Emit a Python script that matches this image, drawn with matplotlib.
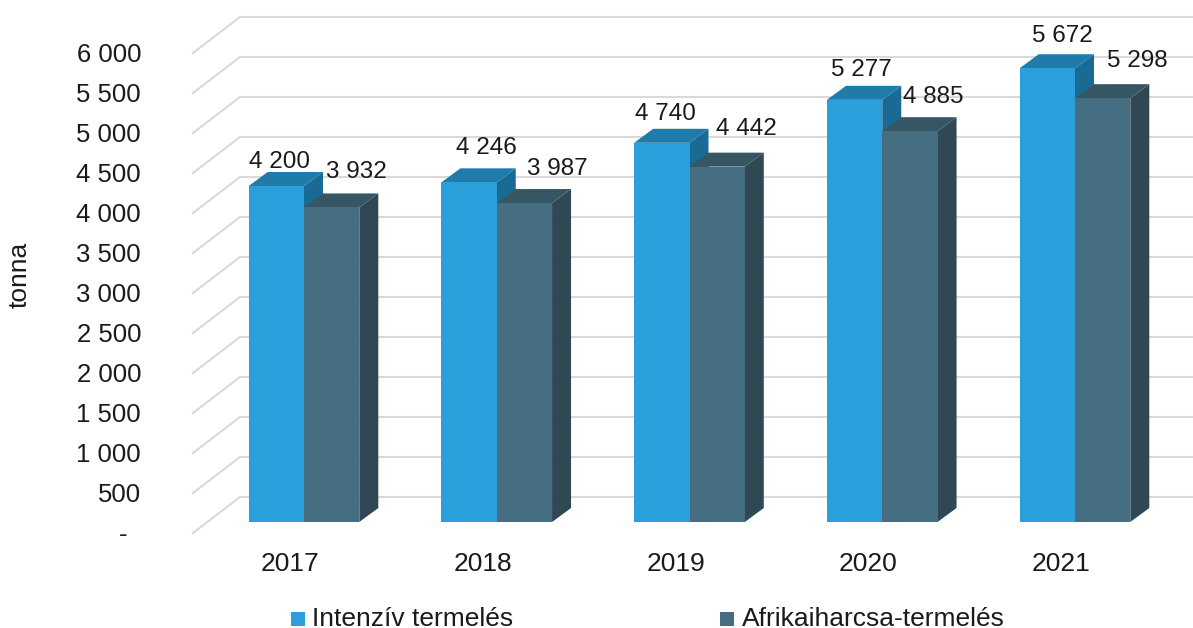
# coding=utf-8
import matplotlib
matplotlib.use('Agg')
import matplotlib.pyplot as plt
from matplotlib.patches import Polygon, Rectangle

plt.rcParams['font.family'] = ['Liberation Sans', 'DejaVu Sans']

years = ['2017', '2018', '2019', '2020', '2021']
intenziv = [4200, 4246, 4740, 5277, 5672]
afrikai = [3932, 3987, 4442, 4885, 5298]
intenziv_labels = ['4 200', '4 246', '4 740', '5 277', '5 672']
afrikai_labels = ['3 932', '3 987', '4 442', '4 885', '5 298']
y_values = [0, 500, 1000, 1500, 2000, 2500, 3000, 3500, 4000, 4500, 5000, 5500, 6000]
y_labels = ['-', '500', '1 000', '1 500', '2 000', '2 500', '3 000', '3 500',
            '4 000', '4 500', '5 000', '5 500', '6 000']
# hand moved data labels, pixels from top centre of the bar
intenziv_nudge = [(3.5, 24), (17, 34), (4, 29), (7, 30), (15, 32)]
afrikai_nudge = [(24.5, 35), (33, 34), (29, 38), (23, 34), (35, 37)]

W, H = 1193, 628
X_UNIT = 192.75  # pixels per category
Y_UNIT = 0.08  # pixels per tonne
X0 = 304  # pixel of first category centre
Y0 = 522  # pixel of the bar base

fig = plt.figure(figsize=(W / 100, H / 100), dpi=100, facecolor='white')
ax = fig.add_axes([0, 0, 1, 1])
ax.set_xlim(-X0 / X_UNIT, (W - X0) / X_UNIT)
ax.set_ylim((Y0 - H) / Y_UNIT, Y0 / Y_UNIT)
ax.axis('off')


def dx(px):
    return px / X_UNIT


def dy(px):
    return px / Y_UNIT


def left_px(px):
    return (px - X0) / X_UNIT


def draw_bar(left, value, colors):
    '''
    draw one 3d looking bar: front, top and side faces
    '''
    front, top, side = colors
    w = dx(55.3)
    ox, oy = dx(19), dy(14)
    ax.add_patch(Polygon([(left + w, 0), (left + w + ox, oy), (left + w + ox, value + oy), (left + w, value)],
                         closed=True, fc=side, ec='none', zorder=3))
    ax.add_patch(Polygon([(left, value), (left + ox, value + oy), (left + w + ox, value + oy), (left + w, value)],
                         closed=True, fc=top, ec='none', zorder=3))
    ax.add_patch(Rectangle((left, 0), w, value, fc=front, ec='none', zorder=3))


# walls
for v in y_values:
    ax.plot([left_px(193), left_px(240), left_px(W)], [v - dy(11), v + dy(25), v + dy(25)],
            color='#D9D9D9', lw=1.5, zorder=1, solid_joinstyle='miter')

# bars
blue = ('#2A9FDC', '#1F7BA9', '#1A6A96')
dark = ('#466E82', '#365664', '#2F4854')
for i in range(len(years)):
    draw_bar(i - dx(55.3), intenziv[i], blue)
    draw_bar(i, afrikai[i], dark)

# data labels
for i in range(len(years)):
    ax.annotate(intenziv_labels[i], xy=(i - dx(27.6), intenziv[i]), xytext=intenziv_nudge[i],
                textcoords='offset pixels', ha='center', va='center', fontsize=17.5, color='#1a1a1a', zorder=5)
    ax.annotate(afrikai_labels[i], xy=(i + dx(27.6), afrikai[i]), xytext=afrikai_nudge[i],
                textcoords='offset pixels', ha='center', va='center', fontsize=17.5, color='#1a1a1a', zorder=5)

# y tick labels
for v, lab in zip(y_values, y_labels):
    right = 127 if lab == '-' else 141
    ax.text(left_px(right), v - dy(13), lab, ha='right', va='center', fontsize=18.5, color='#1a1a1a')

# x tick labels
for i, lab in enumerate(years):
    ax.text(i - dx(14), dy(-42), lab, ha='center', va='center', fontsize=19, color='#1a1a1a')

ax.text(left_px(20), dy(247), 'tonna', rotation=90, ha='center', va='center', fontsize=19, color='#1a1a1a')

# legend
for sx, tx, color, lab in [(291, 312, blue[0], 'Intenzív termelés'),
                           (720, 742, dark[0], 'Afrikaiharcsa-termelés')]:
    ax.add_patch(Rectangle((left_px(sx), dy(-104)), dx(14), dy(14), fc=color, ec='none'))
    ax.text(left_px(tx), dy(-104.5), lab, ha='left', va='baseline', fontsize=19, color='#1a1a1a')

fig.savefig('out.png', dpi=100)
